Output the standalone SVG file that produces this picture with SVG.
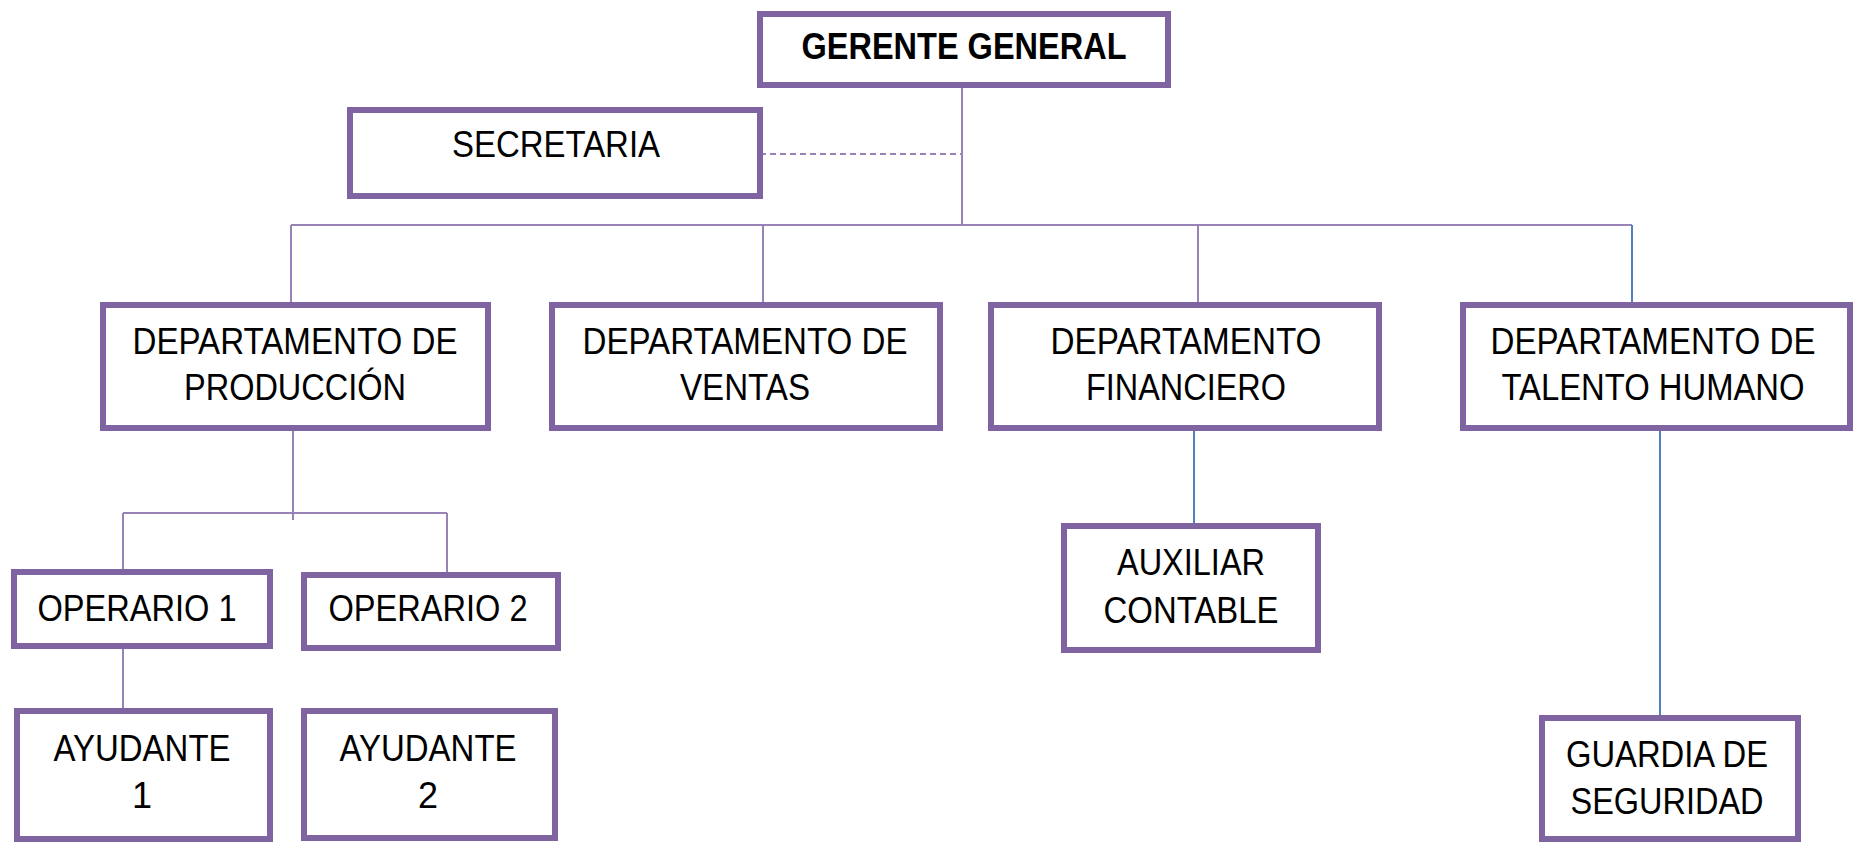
<svg xmlns="http://www.w3.org/2000/svg" width="1854" height="842" viewBox="0 0 1854 842">
<style>
.box{fill:#fff;stroke:#8064A2;stroke-width:6}
.t{font-family:"Liberation Sans",Arial,sans-serif;font-size:36px;fill:#000;text-anchor:middle}
.b{font-weight:bold}
.c{fill:none;stroke:#9883B6;stroke-width:2}
.cb{fill:none;stroke:#4F81BD;stroke-width:2}
.d{stroke-dasharray:6 4}
</style>
<rect width="1854" height="842" fill="#fff"/>
<g id="connectors">
<line class="c" x1="962" y1="85" x2="962" y2="225"/>
<line class="c d" x1="760" y1="154" x2="962" y2="154"/>
<line class="c" x1="291" y1="225" x2="1632" y2="225"/>
<line class="c" x1="291" y1="225" x2="291" y2="305"/>
<line class="c" x1="763" y1="225" x2="763" y2="305"/>
<line class="c" x1="1198" y1="225" x2="1198" y2="305"/>
<line class="cb" x1="1632" y1="225" x2="1632" y2="305"/>
<line class="c" x1="293" y1="428" x2="293" y2="520"/>
<line class="c" x1="123" y1="513" x2="447" y2="513"/>
<line class="c" x1="123" y1="513" x2="123" y2="572"/>
<line class="c" x1="447" y1="513" x2="447" y2="575"/>
<line class="c" x1="123" y1="648" x2="123" y2="711"/>
<line class="cb" x1="1194" y1="428" x2="1194" y2="526"/>
<line class="cb" x1="1660" y1="428" x2="1660" y2="718"/>
</g>
<g id="gerente"><rect class="box" x="760" y="14" width="408" height="71"/><text class="t b" x="964" y="59" textLength="325" lengthAdjust="spacingAndGlyphs">GERENTE GENERAL</text></g>
<g id="secretaria"><rect class="box" x="350" y="110" width="410" height="86"/><text class="t" x="556" y="157" textLength="208" lengthAdjust="spacingAndGlyphs">SECRETARIA</text></g>
<g id="produccion"><rect class="box" x="103" y="305" width="385" height="123"/><text class="t" x="295" y="354" textLength="325" lengthAdjust="spacingAndGlyphs">DEPARTAMENTO DE</text><text class="t" x="295" y="400" textLength="222" lengthAdjust="spacingAndGlyphs">PRODUCCIÓN</text></g>
<g id="ventas"><rect class="box" x="552" y="305" width="388" height="123"/><text class="t" x="745" y="354" textLength="325" lengthAdjust="spacingAndGlyphs">DEPARTAMENTO DE</text><text class="t" x="745" y="400" textLength="130" lengthAdjust="spacingAndGlyphs">VENTAS</text></g>
<g id="financiero"><rect class="box" x="991" y="305" width="388" height="123"/><text class="t" x="1186" y="354" textLength="271" lengthAdjust="spacingAndGlyphs">DEPARTAMENTO</text><text class="t" x="1186" y="400" textLength="200" lengthAdjust="spacingAndGlyphs">FINANCIERO</text></g>
<g id="talento"><rect class="box" x="1463" y="305" width="387" height="123"/><text class="t" x="1653" y="354" textLength="325" lengthAdjust="spacingAndGlyphs">DEPARTAMENTO DE</text><text class="t" x="1653" y="400" textLength="303" lengthAdjust="spacingAndGlyphs">TALENTO HUMANO</text></g>
<g id="operario1"><rect class="box" x="14" y="572" width="256" height="74"/><text class="t" x="137" y="621" textLength="199" lengthAdjust="spacingAndGlyphs">OPERARIO 1</text></g>
<g id="operario2"><rect class="box" x="304" y="575" width="254" height="73"/><text class="t" x="428" y="621" textLength="199" lengthAdjust="spacingAndGlyphs">OPERARIO 2</text></g>
<g id="ayudante1"><rect class="box" x="17" y="711" width="253" height="128"/><text class="t" x="142" y="761" textLength="177" lengthAdjust="spacingAndGlyphs">AYUDANTE</text><text class="t" x="142" y="808">1</text></g>
<g id="ayudante2"><rect class="box" x="304" y="711" width="251" height="127"/><text class="t" x="428" y="761" textLength="177" lengthAdjust="spacingAndGlyphs">AYUDANTE</text><text class="t" x="428" y="808">2</text></g>
<g id="auxiliar"><rect class="box" x="1064" y="526" width="254" height="124"/><text class="t" x="1191" y="575" textLength="148" lengthAdjust="spacingAndGlyphs">AUXILIAR</text><text class="t" x="1191" y="623" textLength="175" lengthAdjust="spacingAndGlyphs">CONTABLE</text></g>
<g id="guardia"><rect class="box" x="1542" y="718" width="256" height="121"/><text class="t" x="1667" y="767" textLength="202" lengthAdjust="spacingAndGlyphs">GUARDIA DE</text><text class="t" x="1667" y="814" textLength="193" lengthAdjust="spacingAndGlyphs">SEGURIDAD</text></g>
</svg>
